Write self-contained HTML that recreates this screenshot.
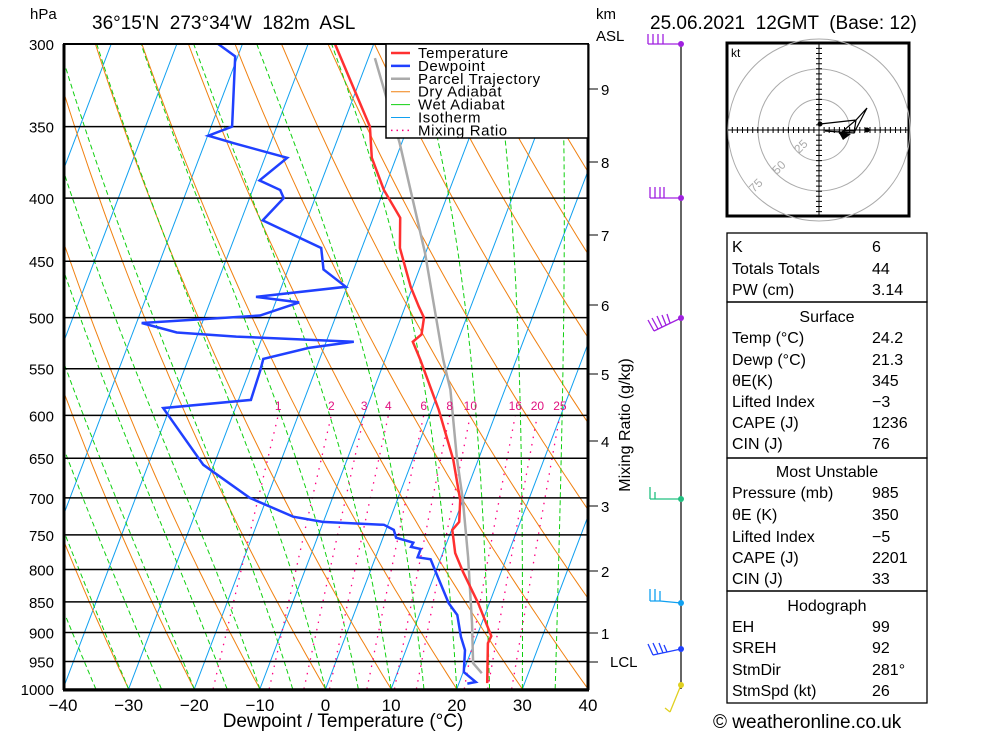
<!DOCTYPE html>
<html><head><meta charset="utf-8"><style>
html,body{margin:0;padding:0;background:#fff;}
svg{display:block;font-family:"Liberation Sans",sans-serif;}
</style></head><body>
<svg id="chart" width="1000" height="733" viewBox="0 0 1000 733" xmlns="http://www.w3.org/2000/svg">
<defs><clipPath id="plotclip"><rect x="63" y="44" width="525" height="645"/></clipPath></defs>
<rect x="0" y="0" width="1000" height="733" fill="#fff"/>
<g id="grid" clip-path="url(#plotclip)"></g>
<g id="isobars"></g>
<g id="series" clip-path="url(#plotclip)"></g>
<g id="frame">
<line x1="64" y1="44" x2="64" y2="690" stroke="#000" stroke-width="3"/>
<line x1="63" y1="690" x2="589" y2="690" stroke="#000" stroke-width="3"/>
<line x1="588" y1="44" x2="588" y2="690" stroke="#000" stroke-width="3"/>
<line x1="63" y1="44" x2="589" y2="44" stroke="#000" stroke-width="2"/>
</g>
<g id="legend">
<rect x="386" y="44" width="202" height="94" fill="#fff" stroke="#000" stroke-width="1.5"/>
</g>
<g id="labels"></g>
<text x="30" y="19" font-size="15">hPa</text>
<text x="92" y="29" font-size="19" xml:space="preserve">36°15'N  273°34'W  182m  ASL</text>
<text x="650" y="29" font-size="19" xml:space="preserve">25.06.2021  12GMT  (Base: 12)</text>
<text x="596" y="19" font-size="15">km</text>
<text x="596" y="41" font-size="15">ASL</text>
<text x="343" y="727" font-size="19" text-anchor="middle">Dewpoint / Temperature (°C)</text>
<text transform="translate(630,425) rotate(-90)" font-size="16" text-anchor="middle">Mixing Ratio (g/kg)</text>
<g id="winds">
<line x1="681" y1="44" x2="681" y2="689" stroke="#000" stroke-width="1.2"/>
</g>
<g id="hodo">
<rect x="727" y="43" width="182" height="173" fill="#fff" stroke="#000" stroke-width="3"/>
<text x="731" y="57" font-size="12">kt</text>
</g>
<g id="table"></g>
<text x="713" y="728" font-size="19">© weatheronline.co.uk</text>
</svg>
<script>
const tempP=[300,350,371,394,415,439,472,490,500,516,523,541,594,652,703,732,743,776,804,852,906,918,989];
const tempT=[-35.9,-25.8,-23.7,-20,-15.9,-14.2,-10.3,-7.9,-6.5,-5.9,-6.8,-4.6,1.1,6.2,9.6,10.7,10.1,11.9,14.2,18.3,22.2,22.1,24.3];
const dewP=[300,307,350,356,361,371,387,394,400,417,439,457,472,481,486,498,505,514,518,523,529,540,551,583,592,658,700,725,732,736,743,754,761,767,770,782,785,801,852,871,907,930,969,987,990];
const dewT=[-53.7,-50.4,-46.8,-49.9,-45.6,-36.6,-39.5,-35.8,-34.8,-36.7,-26.2,-24.6,-20.2,-33.3,-26.4,-31.6,-49.2,-43.3,-34,-15.8,-22.3,-28.6,-28.4,-28.1,-41,-31.6,-22.6,-14.9,-10.1,-0.6,1.2,2.0,4.9,4.8,6.4,6.4,8.5,9.8,13.8,15.8,17.6,19.0,20.1,22.5,21.3];
const parcelP=[971,953,884,782,703,649,572,541,443,361,308];
const parcelT=[22.9,21.0,18.5,14.1,10.0,6.6,1.7,-1.1,-10.1,-20.3,-29.0];
const isobarLevels=[300,350,400,450,500,550,600,650,700,750,800,850,900,950,1000];
const xTicks=[-40,-30,-20,-10,0,10,20,30,40];
const mixRatios=[1,2,3,4,6,8,10,16,20,25];
const kmLabels=[9,8,7,6,5,4,3,2,1];
const kmY=[89,162,235,305,374,441,506,571,633];

const NS="http://www.w3.org/2000/svg";
const LN=Math.log(1000/300);
function Y(p){return 689-Math.log(1000/p)/LN*645;}
function X(T,p){return 63+(T+40)*6.5625+(689-Y(p))*0.38;}
function mk(tag,attrs,parent){const e=document.createElementNS(NS,tag);for(const k in attrs)e.setAttribute(k,attrs[k]);parent.appendChild(e);return e;}
function pathFrom(ps,ts){let d="";for(let i=0;i<ps.length;i++){d+=(i?"L":"M")+X(ts[i],ps[i]).toFixed(1)+","+Y(ps[i]).toFixed(1);}return d;}
const grid=document.getElementById('grid');
for(let T=-120;T<=40;T+=10){
  const l=mk('line',{x1:X(T,1000),y1:Y(1000),x2:X(T,300),y2:Y(300),stroke:'#10a0f0','stroke-width':1},grid);
  
  
}
for(let th=-40;th<=200;th+=10){
  const ps=[],ts=[];
  for(let p=1000;p>=300;p-=10){ps.push(p);ts.push((th+273.15)*Math.pow(p/1000,0.2857)-273.15);}
  const e=mk('path',{d:pathFrom(ps,ts),fill:'none',stroke:'#f08010','stroke-width':1},grid);
  
  
}
function es(T){return 6.112*Math.exp(17.67*T/(T+243.5));}
for(let t0=-40;t0<=35;t0+=5){
  const ps=[],ts=[];let T=t0;
  for(let p=1000;p>=300;p-=2){
    ps.push(p);ts.push(T);
    const Tk=T+273.15,e=es(T),rs=0.622*e/(p-e);
    const dTdp=(287*Tk+2.5e6*rs)/(p*(1005+2.5e6*2.5e6*rs*0.622/(287*Tk*Tk)));
    T-=dTdp*2;
  }
  const e=mk('path',{d:pathFrom(ps,ts),fill:'none',stroke:'#10d010','stroke-width':1,'stroke-dasharray':'5,3'},grid);
  
  
}
const labels=document.getElementById('labels');
function tdFromW(w,p){const e=w/1000*p/(0.622+w/1000);const a=Math.log(e/6.112);return 243.5*a/(17.67-a);}
mixRatios.forEach(w=>{
  const ps=[],ts=[];
  for(let p=1000;p>=600;p-=10){ps.push(p);ts.push(tdFromW(w,p));}
  const e=mk('path',{d:pathFrom(ps,ts),fill:'none',stroke:'#ff0080','stroke-width':1.3,'stroke-dasharray':'1.5,6'},grid);
  
  
  const t=mk('text',{x:X(tdFromW(w,600),600),y:410,'font-size':12,fill:'#e0107f','text-anchor':'middle'},labels);
  t.textContent=w;
  
  
});
const iso=document.getElementById('isobars');
isobarLevels.forEach(p=>{
  const l=mk('line',{x1:63,y1:Y(p),x2:588,y2:Y(p),stroke:'#000','stroke-width':1.5},iso);
  
  
  const t=mk('text',{x:54,y:Y(p)+6,'font-size':15,'text-anchor':'end'},labels);
  t.textContent=p;
  
  
});
xTicks.forEach(T=>{
  const t=mk('text',{x:X(T,1000),y:711,'font-size':17,'text-anchor':'middle'},labels);
  t.textContent=(T<0?'\u2212':'')+Math.abs(T);
  
  
});
kmLabels.forEach((k,i)=>{
  const l=mk('line',{x1:588,y1:kmY[i],x2:598,y2:kmY[i],stroke:'#000','stroke-width':1},labels);
  
  
  const t=mk('text',{x:601,y:kmY[i]+6,'font-size':15},labels);
  t.textContent=k;
  
  
});
{const l=mk('line',{x1:588,y1:662,x2:598,y2:662,stroke:'#000','stroke-width':1},labels);


const t=mk('text',{x:610,y:667,'font-size':15},labels);t.textContent='LCL';

}
const series=document.getElementById('series');
const sp=mk('path',{d:pathFrom(parcelP,parcelT),fill:'none',stroke:'#aaaaaa','stroke-width':2.5},series);


const st=mk('path',{d:pathFrom(tempP,tempT),fill:'none',stroke:'#ff3030','stroke-width':2.5},series);


const sd=mk('path',{d:pathFrom(dewP,dewT),fill:'none',stroke:'#2040ff','stroke-width':2.5},series);


const lg=document.getElementById('legend');
const legItems=[['Temperature','#ff3030',2.5,''],['Dewpoint','#2040ff',2.5,''],['Parcel Trajectory','#aaaaaa',2.5,''],['Dry Adiabat','#f08010',1,''],['Wet Adiabat','#10d010',1,''],['Isotherm','#10a0f0',1,''],['Mixing Ratio','#ff0080',1.5,'1.5,4']];
legItems.forEach((it,i)=>{
  const y=53+i*12.9;
  const l=mk('line',{x1:391,y1:y,x2:410,y2:y,stroke:it[1],'stroke-width':it[2]},lg);
  if(it[3])l.setAttribute('stroke-dasharray',it[3]);
  
  
  const t=mk('text',{x:418,y:y+5,'font-size':15,'letter-spacing':'0.6'},lg);
  t.textContent=it[0];
  
  
});
const wd=document.getElementById('winds');
const barbs=[
 ['#a020e0','M681,44 L648,44 M648,44 L648,34 M653,44 L653,34 M658,44 L658,34 M663,44 L663,34',44],
 ['#a020e0','M681,198 L650,198 M650,198 L650,187 M655,198 L655,187 M660,198 L660,187 M664,198 L664,187',198],
 ['#a020e0','M681,318 L654,331 M654,331 L648,320 M658,329 L652,318 M662,327 L657,316 M666,325 L662,315 M670,323 L667,314',318],
 ['#20c080','M681,499 L650,499 M650,499 L650,487 M655,499 L655,492',499],
 ['#10a0f0','M681,603 L660,601 L650,601 M650,601 L650,589 M655,601 L655,589 M660,601 L660,591',603],
 ['#2040ff','M681,649 L653,655 M653,655 L648,644 M658,654 L653,643 M663,653 L659,643 M667,652 L664,645',649],
 ['#e0d020','M681,685 L670,712 M670,712 L665,708',685]
];
barbs.forEach(b=>{
  const p=mk('path',{d:b[1],fill:'none',stroke:b[0],'stroke-width':1.3},wd);
  
  
  const c=mk('circle',{cx:681,cy:b[2],r:3,fill:b[0]},wd);
  
  
});
const hd=document.getElementById('hodo');
const cx=819,cy=130;
[30.7,61,91].forEach(r=>{const c=mk('circle',{cx:cx,cy:cy,r:r,fill:'none',stroke:'#aaa','stroke-width':1},hd);

});
let ax='M728,130 L908,130 M819,44 L819,215 ';
for(let i=-17;i<=17;i++){const d=i*5.1;ax+=`M${cx+d},${cy-3} L${cx+d},${cy+3} M${cx-3},${cy+d} L${cx+3},${cy+d} `;}
{const a=mk('path',{d:ax,stroke:'#000','stroke-width':1,fill:'none'},hd);

}
[['25',799,154],['50',777,175],['75',754,193]].forEach(r=>{const t=mk('text',{x:r[1],y:r[2],'font-size':12,fill:'#aaa',transform:`rotate(-45 ${r[1]} ${r[2]})`},hd);t.textContent=r[0];

});
{const h=mk('path',{d:'M820,124 L856,120 L867,108 L855,131 L843,131 L856,120 L854,133 L825,131 M846,137 L839,133',fill:'none',stroke:'#000','stroke-width':1.2},hd);


const tr=mk('path',{d:'M838,131 L851,134 L843,140 Z',fill:'#000'},hd);


[[820,124],[867,130]].forEach(q=>{const c=mk('circle',{cx:q[0],cy:q[1],r:2.5,fill:'#000'},hd);

});}
const tb=document.getElementById('table');
const rows=[[246,'K','6'],[268,'Totals Totals','44'],[289,'PW (cm)','3.14'],[316,'Surface',null],[337,'Temp (°C)','24.2'],[359,'Dewp (°C)','21.3'],[380,'θE(K)','345'],[401,'Lifted Index','\u22123'],[422,'CAPE (J)','1236'],[443,'CIN (J)','76'],[471,'Most Unstable',null],[492,'Pressure (mb)','985'],[514,'θE (K)','350'],[536,'Lifted Index','\u22125'],[557,'CAPE (J)','2201'],[578,'CIN (J)','33'],[605,'Hodograph',null],[626,'EH','99'],[647,'SREH','92'],[669,'StmDir','281°'],[690,'StmSpd (kt)','26']];
[[233,302],[302,458],[458,591],[591,703]].forEach(b=>{const r=mk('rect',{x:727,y:b[0],width:200,height:b[1]-b[0],fill:'none',stroke:'#000','stroke-width':1.3},tb);

});
rows.forEach(r=>{
  const t=mk('text',{x:r[2]===null?827:732,y:r[0]+6,'font-size':16,'text-anchor':r[2]===null?'middle':'start'},tb);
  t.textContent=r[1];
  
  
  if(r[2]!==null){const v=mk('text',{x:872,y:r[0]+6,'font-size':16},tb);v.textContent=r[2];
  
  }
});
</script>
</body></html>
